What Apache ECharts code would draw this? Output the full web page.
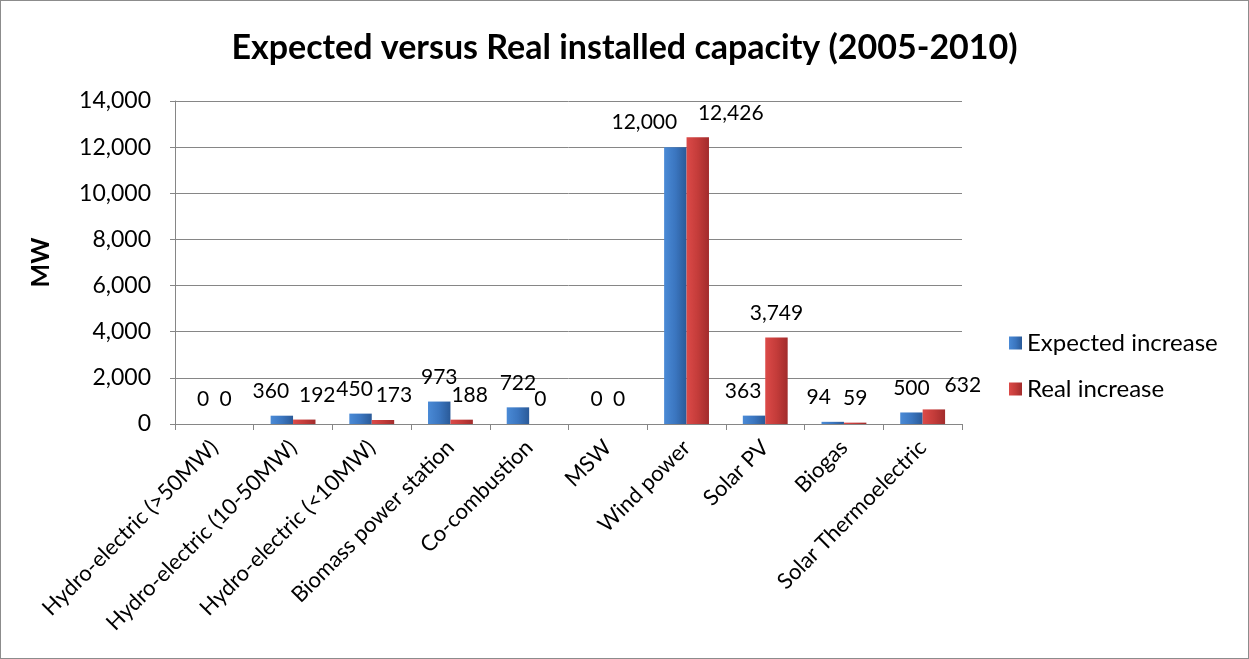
<!DOCTYPE html>
<html><head><meta charset="utf-8">
<script src="https://cdn.jsdelivr.net/npm/echarts@6/dist/echarts.min.js"></script>
<style>
html,body{margin:0;padding:0;background:#fff;}
#c{width:1247px;height:657px;border:1px solid #8c8c8c;}
</style></head>
<body><div id="c"></div>
<script>
const categories = ["Hydro-electric (>50MW)","Hydro-electric (10-50MW)","Hydro-electric (<10MW)","Biomass power station","Co-combustion","MSW","Wind power","Solar PV","Biogas","Solar Thermoelectric"];
const expectedIncrease = [0,360,450,973,722,0,12000,363,94,500];
const realIncrease = [0,192,173,188,0,0,12426,3749,59,632];
const yTicks = {min:0,max:14000,interval:2000};
// label horizontal nudges (style only, px)
const expectedLabelDx = [0,-11,-6,0,0,0,-31,-11,-14,0];
const realLabelDx = [0,13,11,8,0,0,33,0,0,29];

const fmt = v => Number(v).toLocaleString('en-US');
const font = 'Lato, "Open Sans", sans-serif';
const blue = new echarts.graphic.LinearGradient(0,0,1,0,[{offset:0,color:'#4a8ad6'},{offset:0.5,color:'#3b76c0'},{offset:1,color:'#2a5a98'}]);
const red = new echarts.graphic.LinearGradient(0,0,1,0,[{offset:0,color:'#dc4a48'},{offset:0.5,color:'#c43c3a'},{offset:1,color:'#a22c2c'}]);
const labelBase = {show:true,position:'top',distance:14,fontSize:21,color:'#000',fontFamily:font,formatter:p=>fmt(p.value)};
const mk = (vals,dx) => vals.map((v,i)=>({value:v,label:{offset:[dx[i],0]}}));

const chart = echarts.init(document.getElementById('c'));
chart.setOption({
  animation:false,
  textStyle:{fontFamily:font},
  title:{text:'Expected versus Real installed capacity (2005-2010)',left:'center',top:25,
    textStyle:{fontFamily:font,fontSize:34,fontWeight:'bold',color:'#000'}},
  grid:{left:174,right:286,top:100,bottom:234},
  legend:{orient:'vertical',left:1003,top:325,itemGap:22,itemWidth:13,itemHeight:13,icon:'rect',
    textStyle:{fontFamily:font,fontSize:24,color:'#000'}},
  xAxis:{type:'category',data:categories,
    axisLine:{lineStyle:{color:'#868686'}},
    axisTick:{show:true,length:6,lineStyle:{color:'#868686'}},
    axisLabel:{rotate:45,fontSize:22,color:'#000',margin:20,interval:0,fontFamily:font}},
  yAxis:{type:'value',min:yTicks.min,max:yTicks.max,interval:yTicks.interval,
    name:'MW',nameLocation:'middle',nameGap:122,nameRotate:90,
    nameTextStyle:{fontSize:25,fontWeight:'bold',color:'#000',fontFamily:font},
    axisLine:{show:true,lineStyle:{color:'#868686'}},
    axisTick:{show:true,length:5,lineStyle:{color:'#868686'}},
    splitLine:{lineStyle:{color:'#868686'}},
    axisLabel:{fontSize:23,color:'#000',margin:24,formatter:fmt,fontFamily:font}},
  series:[
    {name:'Expected increase',type:'bar',data:mk(expectedIncrease,expectedLabelDx),barGap:'0%',barCategoryGap:'43%',
      itemStyle:{color:blue},label:labelBase},
    {name:'Real increase',type:'bar',data:mk(realIncrease,realLabelDx),
      itemStyle:{color:red},label:labelBase}
  ]
});
</script></body></html>
